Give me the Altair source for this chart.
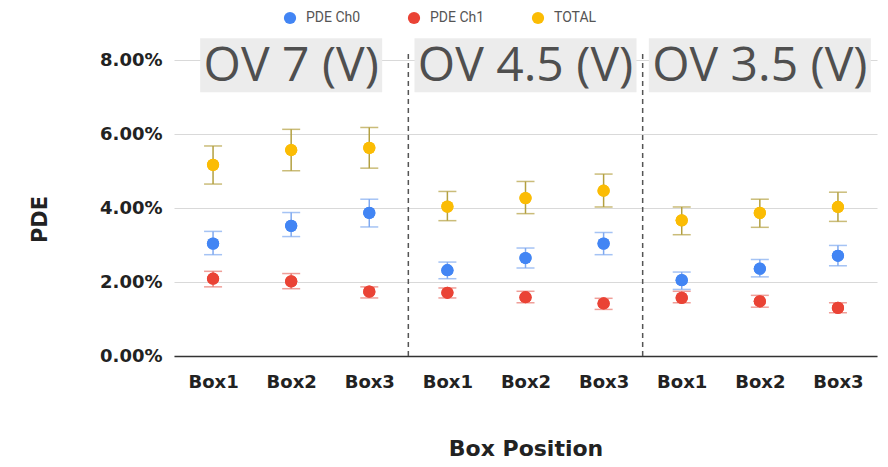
import json
import altair as alt
import pandas as pd

groups = ["OV 7 (V)", "OV 4.5 (V)", "OV 3.5 (V)"]
boxes = ["Box1", "Box2", "Box3"]
series = ["PDE Ch0", "PDE Ch1", "TOTAL"]

# values in percent
ch0 = [3.04, 3.52, 3.87, 2.32, 2.65, 3.04, 2.05, 2.36, 2.71]
ch0_low = [2.74, 3.23, 3.49, 2.09, 2.38, 2.74, 1.80, 2.14, 2.44]
ch0_high = [3.37, 3.88, 4.24, 2.54, 2.92, 3.34, 2.27, 2.61, 2.99]
ch1 = [2.09, 2.02, 1.74, 1.71, 1.59, 1.42, 1.57, 1.48, 1.30]
ch1_low = [1.87, 1.82, 1.57, 1.57, 1.44, 1.26, 1.44, 1.32, 1.17]
ch1_high = [2.29, 2.23, 1.87, 1.84, 1.75, 1.56, 1.75, 1.64, 1.44]
total = [5.17, 5.57, 5.63, 4.04, 4.27, 4.47, 3.67, 3.87, 4.03]
total_low = [4.65, 5.01, 5.08, 3.66, 3.85, 4.03, 3.28, 3.48, 3.64]
total_high = [5.68, 6.13, 6.18, 4.45, 4.72, 4.92, 4.03, 4.24, 4.43]

y_ticks = [0.0, 0.02, 0.04, 0.06, 0.08]

# ---- build tables ----
vals = {"PDE Ch0": (ch0, ch0_low, ch0_high),
        "PDE Ch1": (ch1, ch1_low, ch1_high),
        "TOTAL": (total, total_low, total_high)}
rows = []
labels = []
for gi, g in enumerate(groups):
    for bi, b in enumerate(boxes):
        idx = gi * len(boxes) + bi
        labels.append(b)
        for s in series:
            v, lo, hi = vals[s]
            rows.append({"pos": idx + 1, "group": g, "box": b, "series": s,
                         "value": v[idx] / 100, "low": lo[idx] / 100, "high": hi[idx] / 100})
df = pd.DataFrame(rows)

grp_df = pd.DataFrame({"group": groups,
                       "center": [gi * len(boxes) + (len(boxes) + 1) / 2 for gi in range(len(groups))]})
sep_df = pd.DataFrame({"sep": [gi * len(boxes) + 0.5 for gi in range(1, len(groups))]})

pt_colors = ["#4285F4", "#EA4335", "#FBBC04"]
bar_colors = ["#7fa9f0", "#e8766e", "#b3a040"]

x_scale = alt.Scale(domain=[0.5, len(labels) + 0.5], nice=False, zero=False)
y_scale = alt.Scale(domain=[0, 0.086], nice=False)

x_axis = alt.Axis(values=list(range(1, len(labels) + 1)),
                  labelExpr=json.dumps(labels) + "[datum.value - 1]",
                  grid=False, ticks=False, domain=True, domainColor="#333333", domainWidth=1.5,
                  labelFont="DejaVu Sans", labelFontWeight="bold", labelFontSize=18, labelColor="#222222",
                  labelPadding=17, title="Box Position", titleFont="DejaVu Sans", titleFontWeight="bold",
                  titleFontSize=22, titleColor="#222222", titlePadding=47)
y_axis = alt.Axis(values=y_ticks, format=".2%", ticks=False, domain=False,
                  gridColor="#d9d9d9", gridWidth=1,
                  labelFont="DejaVu Sans", labelFontWeight="bold", labelFontSize=18, labelColor="#222222",
                  labelPadding=12, title="PDE", titleFont="DejaVu Sans", titleFontWeight="bold",
                  titleFontSize=21, titleColor="#222222", titleAngle=-90, titleX=-124, titleY=181,
                  titleBaseline="bottom")

base = alt.Chart(df)

points_x = alt.X("pos:Q", scale=x_scale, axis=x_axis)
points_y = alt.Y("value:Q", scale=y_scale, axis=y_axis)

# annotation boxes
box_widths = {"OV 7 (V)": 182, "OV 4.5 (V)": 222, "OV 3.5 (V)": 222}
rect_layers = []
for g in groups:
    w = box_widths[g]
    rect_layers.append(
        alt.Chart(grp_df).transform_filter(alt.datum.group == g)
        .mark_rect(color="#ececec", xOffset=-w / 2, x2Offset=w / 2, yOffset=-22, y2Offset=32)
        .encode(x=alt.X("center:Q", scale=x_scale), x2="center:Q",
                y=alt.datum(0.08, scale=y_scale), y2=alt.datum(0.08))
    )

grp_text = alt.Chart(grp_df).mark_text(font="Open Sans", fontWeight="normal", fontSize=48,
                                       color="#4f4f4f", baseline="middle", dy=7).encode(
    x=alt.X("center:Q", scale=x_scale), y=alt.datum(0.08), text="group:N")

seps = alt.Chart(sep_df).mark_rule(color="#555555", strokeDash=[5, 4], strokeWidth=1.5).encode(
    x=alt.X("sep:Q", scale=x_scale), y=alt.datum(0), y2=alt.datum(0.082))

stroke_enc = alt.Stroke("series:N", scale=alt.Scale(domain=series, range=bar_colors), legend=None)

err_rule = base.mark_rule(strokeWidth=1.5).encode(
    x=alt.X("pos:Q", scale=x_scale), y=alt.Y("low:Q", scale=y_scale), y2="high:Q", stroke=stroke_enc)
cap_lo = base.mark_tick(orient="horizontal", size=18, thickness=1.5).encode(
    x=alt.X("pos:Q", scale=x_scale), y=alt.Y("low:Q", scale=y_scale), color=stroke_enc)
cap_hi = base.mark_tick(orient="horizontal", size=18, thickness=1.5).encode(
    x=alt.X("pos:Q", scale=x_scale), y=alt.Y("high:Q", scale=y_scale), color=stroke_enc)

pts = base.mark_circle(size=150, opacity=1).encode(
    x=points_x, y=points_y,
    fill=alt.Fill("series:N", scale=alt.Scale(domain=series, range=pt_colors),
                  legend=alt.Legend(title=None, orient="none", legendX=109, legendY=-27,
                                    direction="horizontal", symbolType="circle", symbolSize=150,
                                    symbolStrokeWidth=0, labelFont="Roboto", labelFontSize=14,
                                    labelColor="#555555", columnPadding=46, labelOffset=9)))

chart = alt.layer(pts, *rect_layers, grp_text, seps, err_rule, cap_lo, cap_hi, pts).resolve_scale(
    color="independent").properties(
    width=703, height=318, autosize=alt.AutoSizeParams(type="none"),
    padding={"left": 166, "top": 30, "right": 3, "bottom": 103}
).configure_view(stroke=None)

chart.save("out.html", embed_options={"renderer": "svg", "actions": False})
